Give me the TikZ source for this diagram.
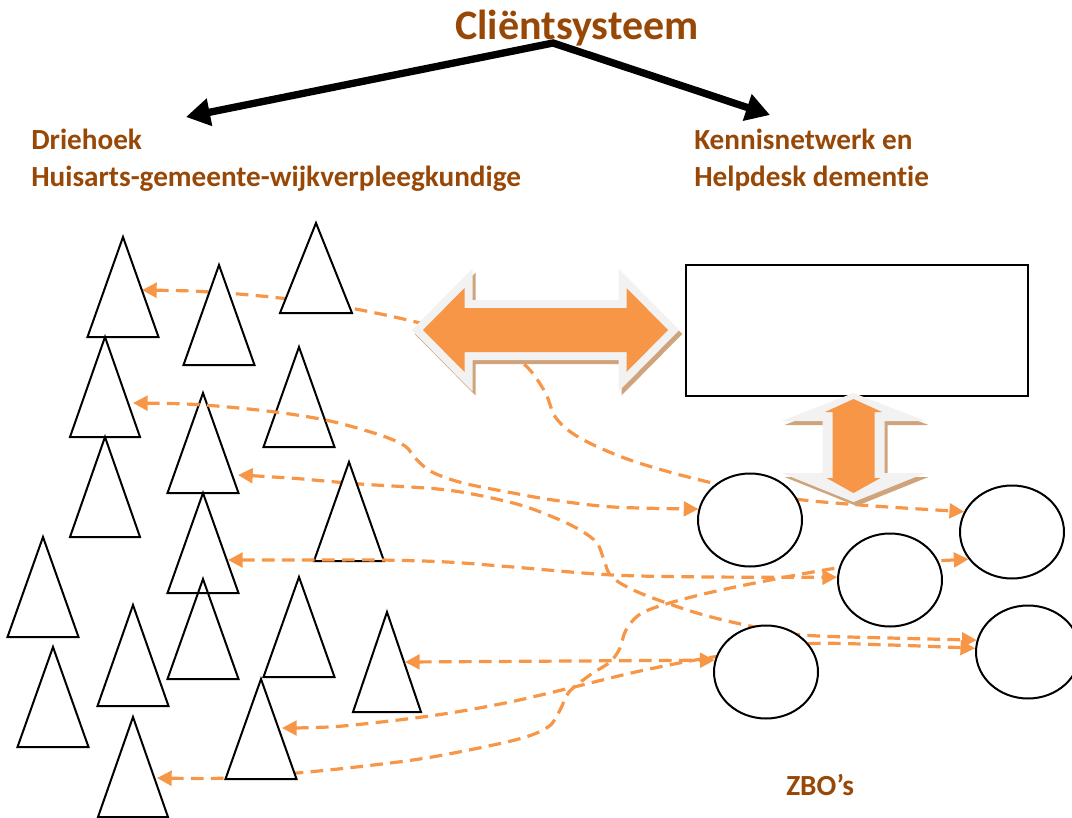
\documentclass[tikz,border=0pt]{standalone}
\usepackage{fontspec}
\setmainfont{Carlito}[Ligatures=NoCommon, Contextuals=NoAlternate]
\usetikzlibrary{arrows.meta,shapes.geometric}
\pgfdeclarelayer{linksback}
\pgfdeclarelayer{cones}
\pgfdeclarelayer{linksfront}
\pgfsetlayers{linksback,cones,linksfront,main}
\definecolor{labelbrown}{HTML}{984806}
\definecolor{accent}{HTML}{F79646}
\definecolor{rim}{HTML}{F2F2F2}
\definecolor{shade}{HTML}{CFA47C}
\tikzset{
  link/.style={draw=accent, line width=2.4pt, dash pattern=on 9.5pt off 5.5pt,
    {Triangle[length=11pt,width=11pt]}-{Triangle[length=11pt,width=11pt]}},
  cone/.style={draw=black, line width=1.5pt, line join=miter},
  zbo/.style={ellipse, draw=black, line width=1.5pt, fill=white,
    minimum width=78pt, minimum height=69.75pt, inner sep=0pt},
  helpbox/.style={rectangle, draw=black, line width=1.5pt, fill=white,
    minimum width=256.5pt, minimum height=98.25pt, inner sep=0pt},
  title/.style={anchor=base west, inner sep=0pt, text=labelbrown,
    font=\fontsize{31.5}{36}\selectfont\bfseries},
  label/.style={anchor=base west, inner sep=0pt, text=labelbrown,
    font=\fontsize{21.9}{26}\selectfont\bfseries},
  split/.style={draw=black, line width=5.5pt, line join=miter,
    {Triangle[length=18pt,width=20pt]}-{Triangle[length=18pt,width=20pt]}},
  pics/hdouble/.style={code={
    \path[fill=shade, draw=shade, line width=12pt, shift={(3,4)}]
      (-122.5,0) -- (-81,-42) -- (-81,-22) -- (81,-22) -- (81,-42) -- (122.5,0)
      -- (81,42) -- (81,22) -- (-81,22) -- (-81,42) -- cycle;
    \path[fill=rim, draw=rim, line width=12pt]
      (-122.5,0) -- (-81,-42) -- (-81,-22) -- (81,-22) -- (81,-42) -- (122.5,0)
      -- (81,42) -- (81,22) -- (-81,22) -- (-81,42) -- cycle;
    \path[fill=accent]
      (-122.5,0) -- (-81,-42) -- (-81,-22) -- (81,-22) -- (81,-42) -- (122.5,0)
      -- (81,42) -- (81,22) -- (-81,22) -- (-81,42) -- cycle;
  }},
  pics/vdouble/.style={code={
    \path[fill=shade, shift={(3,4)}]
      (0,-54) -- (72,-26) -- (31,-26) -- (31,26) -- (72,26) -- (0,55)
      -- (-72,26) -- (-31,26) -- (-31,-26) -- (-72,-26) -- cycle;
    \path[fill=rim]
      (0,-54) -- (72,-26) -- (31,-26) -- (31,26) -- (72,26) -- (0,55)
      -- (-72,26) -- (-31,26) -- (-31,-26) -- (-72,-26) -- cycle;
    \path[fill=accent]
      (0,-48) -- (28.5,-35) -- (21,-35) -- (21,31) -- (27,31) -- (0,46)
      -- (-27,31) -- (-21,31) -- (-21,-35) -- (-28.5,-35) -- cycle;
  }}
}
\def\conelist{1/123/237/71/100, 2/219/265/71/100, 3/316/223/72/90,
  4/105/337/70/100, 5/299/347/71/100, 6/203/393/71/100, 7/105/437/70/100,
  8/349/462/70/99, 9/203/493/71/100, 10/43/537/71/100, 11/203/579/71/100,
  12/299/577/71/100, 13/387/612/68/100, 14/53/647/71/100, 15/133/605/71/101,
  16/261/679/71/100, 17/133/717/70/100}
\begin{document}
\begin{tikzpicture}[x=0.75pt, y=-0.75pt]
\useasboundingbox (0,0) rectangle (1072,818);

% organisations on the right
\node[zbo] (e1) at (750,520) {};
\node[zbo] (e2) at (890,580) {};
\node[zbo] (e3) at (1012,532) {};
\node[zbo] (e4) at (1028,652) {};
\node[zbo] (e5) at (766,672) {};
\node[helpbox] (kennis) at (857,330.5) {};

% exchange arrows
\pic (hx) at (545.5,330) {hdouble};
\pic (vx) at (853.5,447) {vdouble};

% headings
\node[title] (client) at (455,39) {Cliëntsysteem};
\node[label] (drie) at (31,149) {Driehoek};
\node[label] (drie2) at (31,186) {Huisarts-gemeente-wijkverpleegkundige};
\node[label] (kn) at (694,149) {Kennisnetwerk en};
\node[label] (kn2) at (694,186) {Helpdesk dementie};
\node[label] (zbos) at (786,795) {ZBO’s};

\coordinate (peak) at (553,43);
\coordinate (toleft) at (186,117);
\coordinate (toright) at (770,115);
\draw[split] (toleft) -- (peak) -- (toright);

% end points on the cones
\coordinate (a1) at (142,290);
\coordinate (a2) at (133,403);
\coordinate (a3) at (238,475);
\coordinate (a4) at (228,560);
\coordinate (a5) at (405,662);
\coordinate (a6) at (282,728);
\coordinate (a7) at (157,778);

\begin{pgfonlayer}{linksback}
\draw[link] plot[smooth, tension=0.55] coordinates {(a1) (210,292) (280,298)
  (350,308) (420,323) (490,343) (525,365) (545,392) (556,418) (580,438)
  (630,460) (700,480) (780,497) (860,505) (e3.157)};
\draw[link] plot[smooth, tension=0.55] coordinates {(a3) (290,478) (360,484)
  (447,490) (513,503) (553,517) (580,530) (597,543) (604,560) (612,577)
  (640,593) (697,613) (750,626) (803,635) (890,638) (e4.167)};
\draw[link] (a5) -- (e5.167);
\draw[link] plot[smooth, tension=0.55] coordinates {(a6) (330,727) (390,721)
  (450,713) (510,702) (570,688) (640,671) (713,657) (803,644) (890,645)
  (e4.176)};
\draw[link] plot[smooth, tension=0.55] coordinates {(a7) (227,778) (297,773)
  (365,766) (432,757) (515,740) (548,727) (560,710) (569,692) (590,675)
  (610,662) (620,648) (626,630) (642,613) (680,600) (740,586) (837,568)
  (900,563) (e3.212)};
\end{pgfonlayer}

\begin{pgfonlayer}{cones}
\foreach \n/\x/\y/\w/\h in \conelist {
  \fill[white] (\x,\y) -- ++(\w/2,\h) -- ++(-\w,0) -- cycle;
}
\foreach \n/\x/\y/\w/\h in \conelist {
  \draw[cone] (\x,\y) coordinate (t\n) -- ++(\w/2,\h) -- ++(-\w,0) -- cycle;
}
\end{pgfonlayer}

\begin{pgfonlayer}{linksfront}
\draw[link] plot[smooth, tension=0.55] coordinates {(a2) (203,405) (275,412)
  (330,421) (380,435) (405,446) (415,458) (432,472) (463,483) (513,493)
  (553,500) (613,507) (e1.168)};
\draw[link] plot[smooth, tension=0.55] coordinates {(a4) (313,560) (380,560)
  (447,562) (513,567) (613,575) (713,577) (e2.177)};
\end{pgfonlayer}
\end{tikzpicture}
\end{document}
